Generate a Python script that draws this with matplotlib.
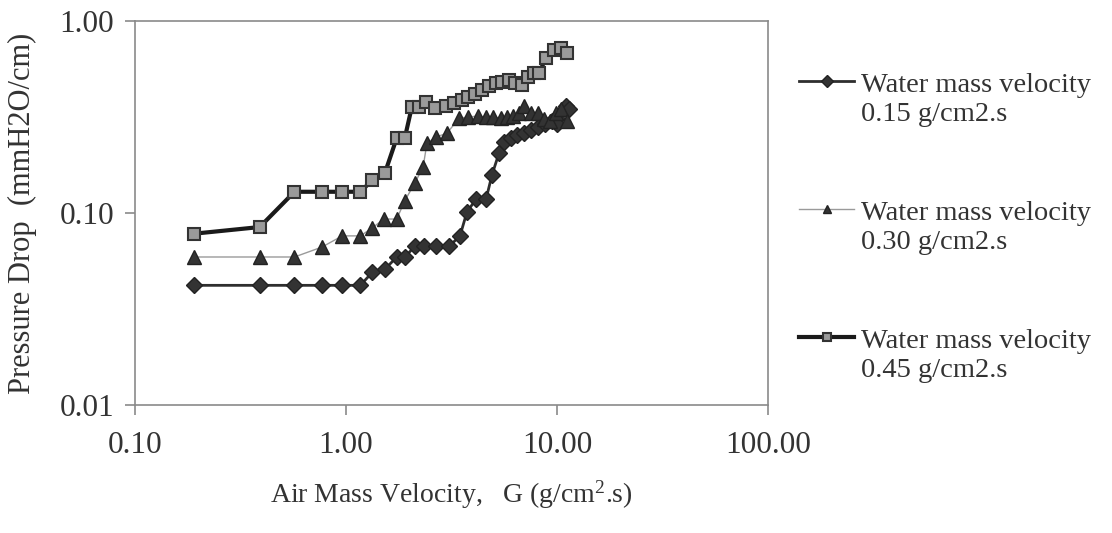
import matplotlib
matplotlib.use("Agg")
import matplotlib.pyplot as plt
from matplotlib.ticker import FixedLocator, NullLocator, FixedFormatter
from matplotlib.legend_handler import HandlerLine2D

plt.rcParams['font.family'] = ['Liberation Serif', 'DejaVu Serif']
plt.rcParams['mathtext.fontset'] = 'custom'
plt.rcParams['mathtext.rm'] = 'Liberation Serif'
plt.rcParams['mathtext.it'] = 'Liberation Serif:italic'

# Water mass velocity 0.15 g/cm2.s (diamonds)
g_015 = [0.19, 0.39, 0.57, 0.77, 0.96, 1.17, 1.33, 1.53, 1.74, 1.90, 2.12, 2.34,
         2.67, 3.08, 3.47, 3.74, 4.13, 4.61, 4.92, 5.31, 5.60, 6.05, 6.45, 6.97,
         7.53, 8.10, 8.80, 9.50, 10.0, 10.6, 11.0, 11.4]
dp_015 = [0.042, 0.042, 0.042, 0.042, 0.042, 0.042, 0.049, 0.051, 0.059, 0.059,
          0.067, 0.067, 0.067, 0.067, 0.076, 0.101, 0.118, 0.118, 0.158, 0.205,
          0.234, 0.246, 0.255, 0.260, 0.270, 0.280, 0.290, 0.300, 0.290, 0.330,
          0.360, 0.350]

# Water mass velocity 0.30 g/cm2.s (triangles)
g_030 = [0.19, 0.39, 0.57, 0.77, 0.96, 1.17, 1.33, 1.51, 1.74, 1.90, 2.12, 2.32,
         2.42, 2.67, 3.01, 3.43, 3.80, 4.20, 4.60, 5.00, 5.40, 5.80, 6.20, 6.60,
         6.97, 7.50, 8.10, 8.70, 9.30, 9.90, 10.5, 11.2]
dp_030 = [0.059, 0.059, 0.059, 0.0665, 0.076, 0.076, 0.0835, 0.093, 0.093, 0.116,
          0.143, 0.174, 0.231, 0.249, 0.260, 0.312, 0.316, 0.320, 0.316, 0.316,
          0.312, 0.316, 0.320, 0.330, 0.360, 0.330, 0.330, 0.310, 0.300, 0.330,
          0.350, 0.300]

# Water mass velocity 0.45 g/cm2.s (squares)
g_045 = [0.19, 0.39, 0.57, 0.77, 0.96, 1.17, 1.33, 1.53, 1.74, 1.90, 2.05, 2.22,
         2.39, 2.64, 2.98, 3.25, 3.55, 3.78, 4.09, 4.41, 4.76, 5.14, 5.49, 5.92,
         6.32, 6.82, 7.29, 7.78, 8.22, 8.87, 9.68, 10.45, 11.15]
dp_045 = [0.078, 0.0845, 0.129, 0.129, 0.129, 0.129, 0.148, 0.162, 0.246, 0.246,
          0.356, 0.356, 0.378, 0.352, 0.360, 0.374, 0.388, 0.402, 0.417, 0.437,
          0.459, 0.475, 0.481, 0.493, 0.475, 0.464, 0.511, 0.536, 0.536, 0.642,
          0.706, 0.723, 0.681]

labels = ["Water mass velocity\n0.15 g/cm2.s",
          "Water mass velocity\n0.30 g/cm2.s",
          "Water mass velocity\n0.45 g/cm2.s"]

x_ticks = [0.1, 1, 10, 100]
x_ticklabels = ["0.10", "1.00", "10.00", "100.00"]
y_ticks = [0.01, 0.1, 1]
y_ticklabels = ["0.01", "0.10", "1.00"]

text_color = "#333333"
LEG_FS = 20.5


class FirstLineHandler(HandlerLine2D):
    """Place the legend handle level with the first line of a two-line label."""
    def create_artists(self, legend, orig_handle, xdescent, ydescent, width,
                       height, fontsize, trans):
        arts = super().create_artists(legend, orig_handle, xdescent, ydescent,
                                      width, height, fontsize, trans)
        shift = 0.66 * fontsize
        for a in arts:
            a.set_ydata([y + shift for y in a.get_ydata()])
        return arts


fig = plt.figure(figsize=(11.12, 5.33), dpi=100)
ax = fig.add_axes([135/1112, 1-405/533, (768-135)/1112, (405-21)/533])

l1, = ax.plot(g_015, dp_015, color="#2e2e2e", lw=2.0, marker="D", markersize=8,
              markerfacecolor="#333333", markeredgecolor="#222222", label=labels[0])
l2, = ax.plot(g_030, dp_030, color="#9a9a9a", lw=1.0, marker="^", markersize=10,
              markerfacecolor="#333333", markeredgecolor="#222222", label=labels[1])
l3, = ax.plot(g_045, dp_045, color="#1a1a1a", lw=3.0, marker="s", markersize=9,
              markerfacecolor="#9a9a9a", markeredgecolor="#333333", markeredgewidth=1.5,
              label=labels[2])

ax.set_xscale("log")
ax.set_yscale("log")
ax.set_xlim(0.1, 100)
ax.set_ylim(0.01, 1)
ax.xaxis.set_major_locator(FixedLocator(x_ticks))
ax.xaxis.set_major_formatter(FixedFormatter(x_ticklabels))
ax.xaxis.set_minor_locator(NullLocator())
ax.yaxis.set_major_locator(FixedLocator(y_ticks))
ax.yaxis.set_major_formatter(FixedFormatter(y_ticklabels))
ax.yaxis.set_minor_locator(NullLocator())

for s in ax.spines.values():
    s.set_color("#8a8a8a")
    s.set_linewidth(1.2)
ax.tick_params(axis="both", direction="out", length=7, width=1.2, color="#8a8a8a",
               labelsize=22.5, labelcolor=text_color)
ax.tick_params(axis="x", pad=12)
ax.tick_params(axis="y", pad=8)

ax.set_xlabel("Air Mass Velocity,   G (g/cm$^{\\mathrm{2}}$.s)", fontsize=20,
              color=text_color, labelpad=13)
ax.set_ylabel("Pressure Drop  (mmH2O/cm)", fontsize=22, color=text_color, labelpad=16)

handler = FirstLineHandler()
leg = fig.legend(handles=[l1, l2, l3], loc="upper left",
                 bbox_to_anchor=(785/1112, 1-59/533), frameon=False, fontsize=LEG_FS,
                 labelcolor=text_color, handlelength=1.93, handletextpad=0.24,
                 labelspacing=2.62, borderpad=0,
                 handler_map={l1: handler, l2: handler, l3: handler})
for t in leg.get_texts():
    t.set_linespacing(1.18)
for h in leg.legend_handles:
    h.set_markersize(6)

fig.savefig("out.png", dpi=100)
